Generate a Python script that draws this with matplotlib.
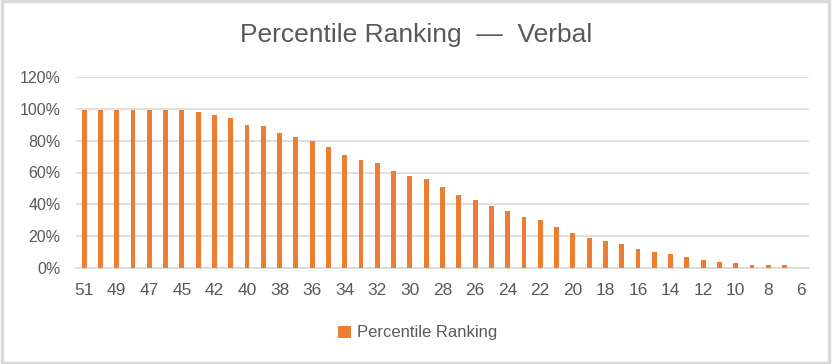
import matplotlib.pyplot as plt
from matplotlib.ticker import PercentFormatter
from matplotlib.patches import Rectangle

plt.rcParams["font.family"] = ["Liberation Sans", "DejaVu Sans"]

scores = ["51", "50", "49", "48", "47", "46", "45", "44", "42", "41", "40",
          "39", "38", "37", "36", "35", "34", "33", "32", "31", "30", "29",
          "28", "27", "26", "25", "24", "23", "22", "21", "20", "19", "18",
          "17", "16", "15", "14", "13", "12", "11", "10", "9", "8", "7", "6"]
percentile = [99, 99, 99, 99, 99, 99, 99, 98, 96, 94, 90,
              89, 85, 82, 80, 76, 71, 68, 66, 61, 58, 56,
              51, 46, 43, 39, 36, 32, 30, 26, 22, 19, 17,
              15, 12, 10, 9, 7, 5, 4, 3, 2, 2, 2, 0]

text_color = "#595959"
grid_color = "#d9d9d9"
bar_color = "#ED7D31"

fig = plt.figure(figsize=(8.32, 3.64), dpi=100)
ax = fig.add_axes([76 / 832, 1 - 268 / 364, 733 / 832, 191 / 364])

x = list(range(len(scores)))
ax.bar(x, percentile, width=0.3, color=bar_color, zorder=3,
       label="Percentile Ranking")

ax.set_xlim(-0.5, len(scores) - 0.5)
ax.set_ylim(0, 120)
ax.set_yticks(range(0, 121, 20))
ax.yaxis.set_major_formatter(PercentFormatter(decimals=0))
ax.set_xticks(x[::2])
ax.set_xticklabels(scores[::2])

ax.grid(axis="y", color=grid_color, linewidth=1.2, zorder=0)
for s in ["top", "right", "left"]:
    ax.spines[s].set_visible(False)
ax.spines["bottom"].set_color(grid_color)
ax.spines["bottom"].set_linewidth(1.2)

ax.tick_params(axis="y", length=0, pad=11, labelsize=11.5, labelcolor=text_color)
ax.tick_params(axis="x", length=0, pad=11, labelsize=12.5, labelcolor=text_color)

fig.text(0.5, 1 - 35 / 364, "Percentile Ranking  —  Verbal", ha="center",
         va="center", fontsize=19, color=text_color)

fig.legend(loc="center", bbox_to_anchor=(418 / 832, 1 - 333 / 364),
           frameon=False, fontsize=12, labelcolor=text_color,
           handlelength=0.75, handleheight=0.75, handletextpad=0.4)

fig.patches.append(Rectangle((0.002, 0.003), 0.994, 0.994, transform=fig.transFigure,
                             fill=False, edgecolor=grid_color, linewidth=2.5))

fig.savefig("out.png", dpi=100)
